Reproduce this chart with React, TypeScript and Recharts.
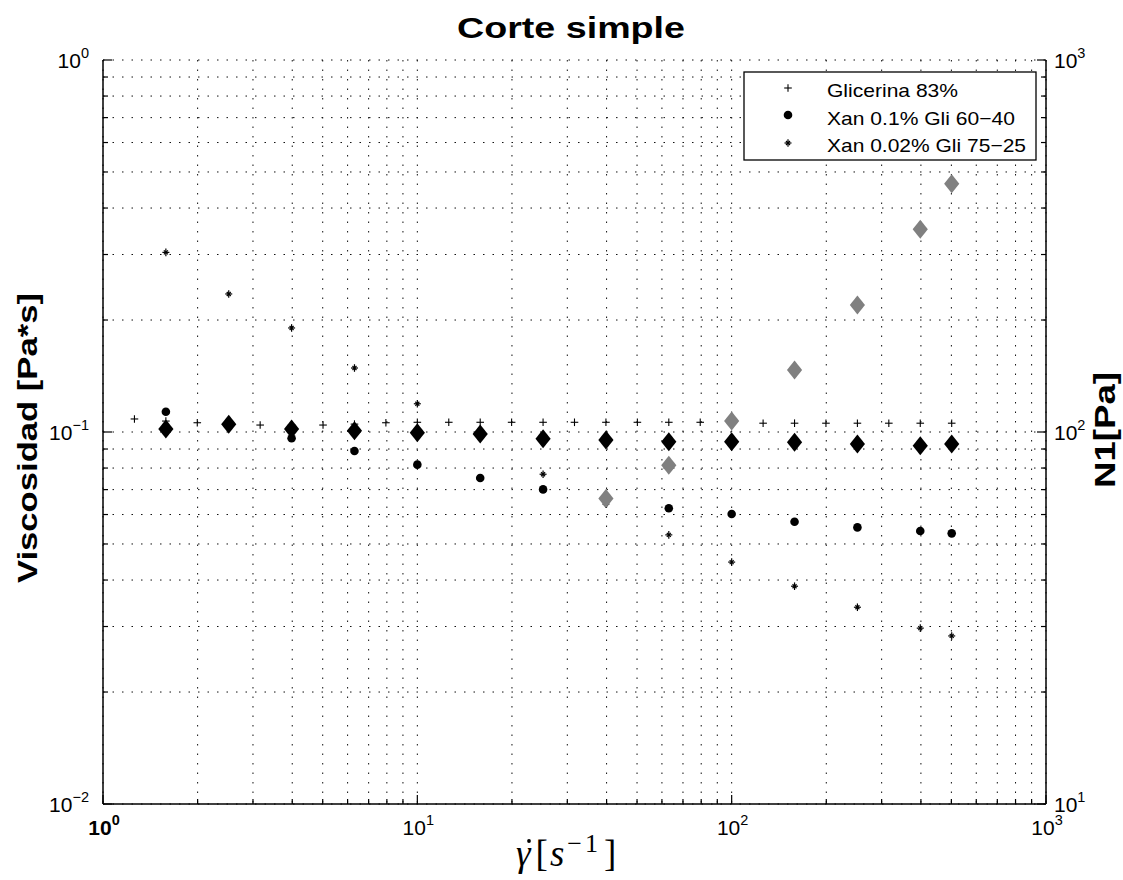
import React from 'react';
import { ScatterChart, Scatter, XAxis, YAxis, CartesianGrid, Customized } from 'recharts';

// ---- data ----
const shearRates = [1.585, 2.512, 3.981, 6.31, 10, 15.85, 25.12, 39.81, 63.1, 100, 158.5, 251.2, 398.1, 501.2];
const glycerinRates = [1.259, 1.585, 1.995, 2.512, 3.162, 3.981, 5.012, 6.31, 7.943, 10, 12.59, 15.85, 19.95, 25.12, 31.62, 39.81, 50.12, 63.1, 79.43, 100, 125.9, 158.5, 199.5, 251.2, 316.2, 398.1, 501.2];
const glycerinVisc = [0.1084, 0.107, 0.1059, 0.105, 0.1044, 0.1044, 0.1044, 0.105, 0.1059, 0.1062, 0.1062, 0.1062, 0.1062, 0.1062, 0.1062, 0.1062, 0.1062, 0.1062, 0.1062, 0.1062, 0.1056, 0.1056, 0.1056, 0.1056, 0.1056, 0.1056, 0.1056];
const xan01Visc = [0.1134, 0.104, 0.0962, 0.0889, 0.0817, 0.0752, 0.0701, 0.066, 0.0624, 0.0602, 0.0574, 0.0554, 0.0542, 0.0534];
const xan002Visc = [0.304, 0.235, 0.1904, 0.1486, 0.1191, 0.097, 0.077, 0.064, 0.0529, 0.0447, 0.0385, 0.0338, 0.0297, 0.0283];
const diamondVisc = [0.1019, 0.1049, 0.1019, 0.1008, 0.0996, 0.0988, 0.0959, 0.0952, 0.0942, 0.0942, 0.0938, 0.0929, 0.0919, 0.0929];
const n1Rates = [39.81, 63.1, 100, 158.5, 251.2, 398.1, 501.2];
const n1Values = [66.3, 81.4, 107, 146.8, 219.5, 350.6, 465];

const xTicks = [1, 2, 3, 4, 5, 6, 7, 8, 9, 10, 20, 30, 40, 50, 60, 70, 80, 90, 100, 200, 300, 400, 500, 600, 700, 800, 900, 1000];
const yLeftTicks = [0.01, 0.02, 0.03, 0.04, 0.05, 0.06, 0.07, 0.08, 0.09, 0.1, 0.2, 0.3, 0.4, 0.5, 0.6, 0.7, 0.8, 0.9, 1];
const yRightTicks = [10, 20, 30, 40, 50, 60, 70, 80, 90, 100, 200, 300, 400, 500, 600, 700, 800, 900, 1000];

const legendLabels = ['Glicerina 83%', 'Xan 0.1% Gli 60\u221240', 'Xan 0.02% Gli 75\u221225'];
const legendWidths = [131, 188, 199];
const titleText = 'Corte simple';
const yLeftTitle = 'Viscosidad [Pa*s]';
const yRightTitle = 'N1[Pa]';

const zip = (xs: number[], ys: number[]) => xs.map((x, i) => ({ x, y: ys[i] }));
const glycerinData = zip(glycerinRates, glycerinVisc);
const xan01Data = zip(shearRates, xan01Visc);
const xan002Data = zip(shearRates, xan002Visc);
const diamondData = zip(shearRates, diamondVisc);
const n1Data = zip(n1Rates, n1Values);

const SANS = 'Liberation Sans, Arial, Helvetica, sans-serif';
const SERIF = 'Liberation Serif, DejaVu Serif, Times New Roman, serif';

const isMajor = (v: number) => Math.abs(Math.log10(v) - Math.round(Math.log10(v))) < 1e-9;
const expOf = (v: number) => {
  const e = Math.round(Math.log10(v));
  return e < 0 ? '\u2212' + Math.abs(e) : String(e);
};

const PowLabel = ({ x, y, v, anchor, bold }: any) => (
  <text x={x} y={y} textAnchor={anchor} fontFamily={SANS} fontSize={21} fontWeight={bold ? 'bold' : 'normal'} fill="#000">
    10<tspan dy={-10} fontSize={14.5}>{expOf(v)}</tspan>
  </text>
);

const XTick = (props: any) => {
  const { x, y, payload } = props;
  const v = payload.value;
  const major = isMajor(v);
  const len = major ? 9 : 5;
  return (
    <g>
      <line x1={x} y1={y} x2={x} y2={y - len} stroke="#000" strokeWidth={1.2} />
      {major && <PowLabel x={x + 1} y={y + 31} v={v} anchor="middle" bold={v === 1} />}
    </g>
  );
};

const YLeftTick = (props: any) => {
  const { x, y, payload } = props;
  const v = payload.value;
  const major = isMajor(v);
  const len = major ? 9 : 5;
  return (
    <g>
      <line x1={x} y1={y} x2={x + len} y2={y} stroke="#000" strokeWidth={1.2} />
      {major && <PowLabel x={x - 14} y={y + 8} v={v} anchor="end" />}
    </g>
  );
};

const YRightTick = (props: any) => {
  const { x, y, payload } = props;
  const v = payload.value;
  const major = isMajor(v);
  const len = major ? 9 : 5;
  return (
    <g>
      <line x1={x} y1={y} x2={x - len} y2={y} stroke="#000" strokeWidth={1.2} />
      {major && <PowLabel x={x + 8} y={y + 8} v={v} anchor="start" />}
    </g>
  );
};

const Plus = ({ cx, cy }: any) => (
  <g>
    <line x1={cx - 3.8} y1={cy} x2={cx + 3.8} y2={cy} stroke="#000" strokeWidth={1.1} />
    <line x1={cx} y1={cy - 3.8} x2={cx} y2={cy + 3.8} stroke="#000" strokeWidth={1.1} />
  </g>
);
const Dot = ({ cx, cy }: any) => <circle cx={cx} cy={cy} r={4.3} fill="#000" />;
const Star = ({ cx, cy }: any) => (
  <g stroke="#000" strokeWidth={1.2}>
    <line x1={cx - 3.5} y1={cy} x2={cx + 3.5} y2={cy} />
    <line x1={cx} y1={cy - 3.8} x2={cx} y2={cy + 3.8} />
    <line x1={cx - 2} y1={cy - 2} x2={cx + 2} y2={cy + 2} />
    <line x1={cx - 2} y1={cy + 2} x2={cx + 2} y2={cy - 2} />
  </g>
);
const Diamond = ({ cx, cy, fill }: any) => (
  <path d={`M${cx},${cy - 9.5} L${cx + 7.6},${cy} L${cx},${cy + 9.5} L${cx - 7.6},${cy} Z`} fill={fill} />
);

const Decorations = () => (
  <g>
    <text x={571} y={38} textAnchor="middle" fontFamily={SANS} fontWeight="bold" fontSize={29} textLength={228} lengthAdjust="spacingAndGlyphs">{titleText}</text>
    <text transform="translate(37,438) rotate(-90)" textAnchor="middle" fontFamily={SANS} fontWeight="bold" fontSize={28} textLength={290} lengthAdjust="spacingAndGlyphs">{yLeftTitle}</text>
    <text transform="translate(1115,430) rotate(-90)" textAnchor="middle" fontFamily={SANS} fontWeight="bold" fontSize={29} textLength={116} lengthAdjust="spacingAndGlyphs">{yRightTitle}</text>
    <text x={516} y={866} textAnchor="start" fontFamily={SERIF} fontSize={37} fill="#000">
      <tspan fontStyle="italic">{'\u03B3'}</tspan>
      <tspan dx={5}>[</tspan>
      <tspan dx={2} fontStyle="italic">s</tspan>
      <tspan dx={3} dy={-14} fontSize={26} letterSpacing={3}>{'\u22121'}</tspan>
      <tspan dx={3} dy={14}>]</tspan>
    </text>
    <circle cx={529} cy={841} r={1.9} fill="#000" />
    <rect x={744} y={72} width={292} height={88} fill="#fff" stroke="#000" strokeWidth={1.3} />
    <Plus cx={788} cy={88} />
    <Dot cx={788} cy={115} />
    <Star cx={788} cy={143} />
    {legendLabels.map((l, i) => (
      <text key={l} x={827} y={97 + i * 27.5} fontFamily={SANS} fontSize={19} fill="#000" textLength={legendWidths[i]} lengthAdjust="spacingAndGlyphs">{l}</text>
    ))}
  </g>
);

export default function App() {
  return (
    <div style={{ position: 'absolute', left: 0, top: 0, background: '#fff' }}>
      <ScatterChart width={1123} height={880} margin={{ top: 60, right: 0, bottom: 0, left: 0 }}>
        <CartesianGrid yAxisId="left" stroke="#111" strokeWidth={1} strokeDasharray="1.5 8" />
        <XAxis dataKey="x" type="number" scale="log" domain={[1, 1000]} ticks={xTicks} interval={0}
          allowDataOverflow height={76} tickSize={0} tickMargin={0} tick={<XTick />}
          axisLine={{ stroke: '#000', strokeWidth: 1.5 }} tickLine={false} />
        <YAxis yAxisId="left" dataKey="y" type="number" scale="log" domain={[0.01, 1]} ticks={yLeftTicks} interval={0}
          allowDataOverflow width={103} tickSize={0} tickMargin={0} tick={<YLeftTick />}
          axisLine={{ stroke: '#000', strokeWidth: 1.5 }} tickLine={false} />
        <YAxis yAxisId="right" orientation="right" dataKey="y" type="number" scale="log" domain={[10, 1000]} ticks={yRightTicks} interval={0}
          allowDataOverflow width={77} tickSize={0} tickMargin={0} tick={<YRightTick />}
          axisLine={{ stroke: '#000', strokeWidth: 1.5 }} tickLine={false} />
        <Scatter yAxisId="left" data={xan01Data} isAnimationActive={false} shape={(p: any) => <Dot cx={p.cx} cy={p.cy} />} />
        <Scatter yAxisId="left" data={xan002Data} isAnimationActive={false} shape={(p: any) => <Star cx={p.cx} cy={p.cy} />} />
        <Scatter yAxisId="left" data={diamondData} isAnimationActive={false} shape={(p: any) => <Diamond cx={p.cx} cy={p.cy} fill="#000" />} />
        <Scatter yAxisId="left" data={glycerinData} isAnimationActive={false} shape={(p: any) => <Plus cx={p.cx} cy={p.cy} />} />
        <Scatter yAxisId="right" data={n1Data} isAnimationActive={false} shape={(p: any) => <Diamond cx={p.cx} cy={p.cy} fill="#808080" />} />
        <Customized component={Decorations} />
      </ScatterChart>
    </div>
  );
}
